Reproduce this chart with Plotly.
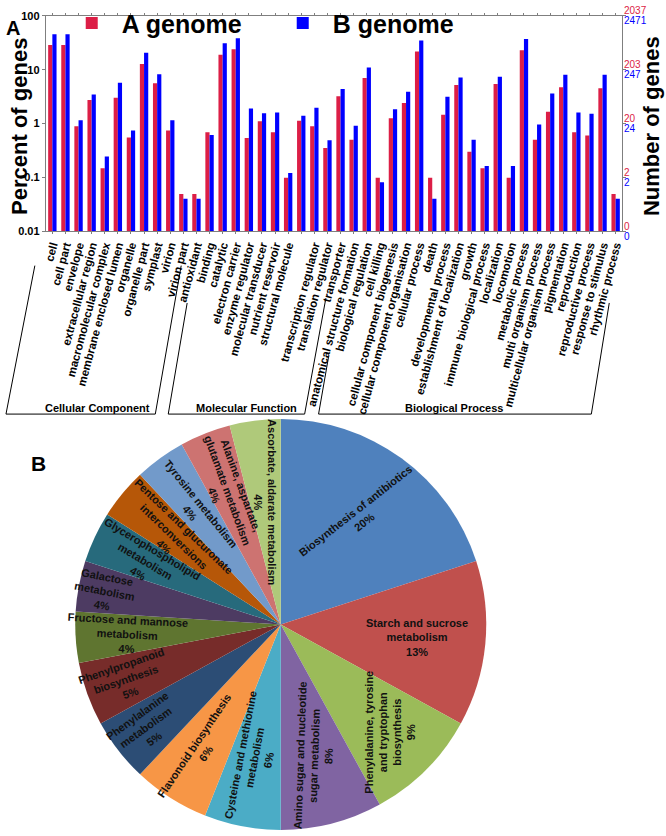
import numpy as np
import plotly.graph_objects as go

W, H = 666, 836

# ---------------- data: panel A ----------------
go_terms = [
    "cell", "cell part", "envelope", "extracellular region", "macromolecular complex",
    "membrane enclosed lumen", "organelle", "organelle part", "symplast", "virion",
    "virion part", "antioxidant", "binding", "catalytic", "electron carrier",
    "enzyme regulator", "molecular transducer", "nutrient reservoir", "structural molecule",
    "", "transcription regulator", "translation regulator", "transporter",
    "anatomical structure formation", "biological regulation", "cell killing",
    "cellular component biogenesis", "cellular component organisation", "cellular process",
    "death", "developmental process", "establishment of localization", "growth",
    "immune biological process", "localization", "locomotion", "metabolic process",
    "multi organism process", "multicellular organism process", "pigmentation",
    "reproduction", "reproductive process", "response to stimulus", "rhythmic process",
]
a_genome_pct = [28.8, 28.8, 0.89, 2.74, 0.147, 3.02, 0.55, 12.8, 5.6, 0.745,
                0.049, 0.049, 0.69, 18.9, 24.0, 0.54, 1.10, 0.69, 0.098,
                1.13, 0.89, 0.35, 3.2, 0.50, 7.0, 0.098, 1.25, 2.4, 21.7,
                0.098, 1.46, 5.2, 0.30, 0.147, 5.4, 0.098, 23.0, 0.50, 1.65,
                4.7, 0.69, 0.60, 4.5, 0.049]
b_genome_pct = [45.7, 45.7, 1.15, 3.47, 0.243, 5.75, 0.745, 20.6, 8.2, 1.15,
                0.040, 0.040, 0.61, 30.9, 38.6, 1.90, 1.56, 1.61, 0.121,
                1.40, 1.96, 0.49, 4.4, 0.91, 11.0, 0.081, 1.85, 3.9, 35.0,
                0.040, 3.15, 7.2, 0.50, 0.162, 7.4, 0.162, 37.0, 0.96, 3.6,
                8.1, 1.60, 1.52, 8.1, 0.040]
pct_ticks = [0.01, 0.1, 1, 10, 100]
pct_tick_text = ["0.01", "0.1", "1", "10", "100"]
a_count_ticks = ["0", "2", "20", "203", "2037"]
b_count_ticks = ["0", "2", "24", "247", "2471"]
groups = ["Cellular Component", "Molecular Function", "Biological Process"]

# ---------------- data: panel B ----------------
pathways = [
    "Biosynthesis of antibiotics<br>20%",
    "Starch and sucrose<br>metabolism<br>13%",
    "Phenylalanine, tyrosine<br>and tryptophan<br>biosynthesis<br>9%",
    "Amino sugar and nucleotide<br>sugar metabolism<br>8%",
    "Cysteine and methionine<br>metabolism<br>6%",
    "Flavonoid biosynthesis<br>6%",
    "Phenylalanine<br>metabolism<br>5%",
    "Phenylpropanoid<br>biosynthesis<br>5%",
    "Fructose and mannose<br>metabolism<br>4%",
    "Galactose<br>metabolism<br>4%",
    "Glycerophospholipid<br>metabolism<br>4%",
    "Pentose and glucuronate<br>interconversions<br>4%",
    "Tyrosine metabolism<br>4%",
    "Alanine, aspartate,<br>glutamate metabolism<br>4%",
    "Ascorbate, aldarate metabolism<br>4%",
]
pathway_pct = [20, 13, 9, 8, 6, 6, 5, 5, 4, 4, 4, 4, 4, 4, 4]

# ---------------- styles ----------------
RED = "#DC1E46"
BLUE = "#0000FF"
pie_colors = ["#4F81BD", "#C0504D", "#9BBB59", "#8064A2", "#4BACC6", "#F79646",
              "#2C4D75", "#772C2A", "#5F7530", "#4D3B62", "#276A7C", "#B65708",
              "#729ACA", "#CD7371", "#AFC97A"]
pie_text_angle = [-38, 0, -90, -88, -79, -56, -36, -19, 3, 11, 31, 44, 51, 70, 90]
pie_text_radius = [0.65, 0.66, 0.74, 0.66, 0.66, 0.72, 0.82, 0.79, 0.74, 0.86,
                   0.72, 0.67, 0.70, 0.70, 0.60]
FONT = "Liberation Sans, Arial, sans-serif"


def px_x(px):
    return px / W


def px_y(py):
    return 1 - py / H


# plot area of panel A in pixels
PL, PR, PT, PB = 44, 623, 8, 227

fig = go.Figure()
xpos = list(range(len(go_terms)))
fig.add_trace(go.Bar(x=xpos, y=a_genome_pct, name="A genome", marker_color=RED,
                     marker_line_width=0))
fig.add_trace(go.Bar(x=xpos, y=b_genome_pct, name="B genome", marker_color=BLUE,
                     marker_line_width=0))

# ---- pie (panel B)
cx, cy, R = 280, 627, 209
fig.add_trace(go.Pie(values=pathway_pct, labels=[p.split("<br>")[0] for p in pathways],
                     sort=False, direction="clockwise", rotation=0,
                     marker=dict(colors=pie_colors, line=dict(width=0)),
                     textinfo="none", showlegend=False, hoverinfo="skip",
                     domain=dict(x=[px_x(cx - R), px_x(cx + R)], y=[px_y(cy + R), px_y(cy - R)])))

annotations = []
vals = np.array(pathway_pct, dtype=float)
mids = (np.cumsum(vals) - vals / 2) / vals.sum() * 2 * np.pi
for txt, th, ang, rf in zip(pathways, mids, pie_text_angle, pie_text_radius):
    tx = cx + rf * R * np.sin(th)
    ty = cy - rf * R * np.cos(th)
    annotations.append(dict(x=px_x(tx), y=px_y(ty), xref="paper", yref="paper",
                            text="<b>" + txt + "</b>", showarrow=False, textangle=ang,
                            font=dict(family=FONT, size=11, color="#111111"),
                            xanchor="center", yanchor="middle"))

# right-hand count labels (two colours)
for v, a_lab, b_lab in zip(pct_ticks, a_count_ticks, b_count_ticks):
    annotations.append(dict(x=1.0, xref="x domain", y=np.log10(v), yref="y",
                            text=a_lab, showarrow=False, xanchor="left", yanchor="middle",
                            xshift=0, yshift=5, font=dict(family=FONT, size=10, color=RED)))
    annotations.append(dict(x=1.0, xref="x domain", y=np.log10(v), yref="y",
                            text=b_lab, showarrow=False, xanchor="left", yanchor="middle",
                            xshift=0, yshift=-5, font=dict(family=FONT, size=10, color=BLUE)))

# titles / panel letters
annotations += [
    dict(x=px_x(18), y=px_y(120), xref="paper", yref="paper", text="<b>Percent of genes</b>",
         textangle=-90, showarrow=False, xanchor="center", yanchor="middle",
         font=dict(family=FONT, size=22, color="black")),
    dict(x=px_x(653), y=px_y(120), xref="paper", yref="paper", text="<b>Number of genes</b>",
         textangle=-90, showarrow=False, xanchor="center", yanchor="middle",
         font=dict(family=FONT, size=22, color="black")),
    dict(x=px_x(11), y=px_y(20), xref="paper", yref="paper", text="<b>A</b>",
         showarrow=False, xanchor="center", yanchor="middle",
         font=dict(family=FONT, size=20, color="black")),
    dict(x=px_x(37), y=px_y(463), xref="paper", yref="paper", text="<b>B</b>",
         showarrow=False, xanchor="center", yanchor="middle",
         font=dict(family=FONT, size=21, color="black")),
]

# group brackets
bracket_text_x = [96, 246, 454]
for g, gx in zip(groups, bracket_text_x):
    annotations.append(dict(x=px_x(gx), y=px_y(407), xref="paper", yref="paper",
                            text="<b>" + g + "</b>", showarrow=False,
                            xanchor="center", yanchor="middle",
                            font=dict(family=FONT, size=11, color="black")))

bracket_lines = [
    ((33, 262), (4, 413)), ((4, 413), (154, 413)), ((154, 413), (180, 262)),
    ((186, 300), (167, 413)), ((167, 413), (304, 413)), ((304, 413), (325, 297)),
    ((328, 355), (318, 413)), ((318, 413), (592, 413)), ((592, 413), (610, 300)),
]
shapes = []
for (x0, y0), (x1, y1) in bracket_lines:
    shapes.append(dict(type="line", xref="paper", yref="paper",
                       x0=px_x(x0), y0=px_y(y0), x1=px_x(x1), y1=px_y(y1),
                       line=dict(color="black", width=1), layer="below"))

fig.update_layout(
    width=W, height=H, margin=dict(l=0, r=0, t=0, b=0),
    paper_bgcolor="white", plot_bgcolor="white",
    barmode="group", bargap=0.36, bargroupgap=0.0,
    font=dict(family=FONT, color="black"),
    legend=dict(orientation="h", x=px_x(60), y=px_y(-8), xanchor="left", yanchor="top",
                itemwidth=50, entrywidth=146, entrywidthmode="pixels",
                bgcolor="rgba(0,0,0,0)",
                font=dict(family=FONT, size=25, color="black", weight="bold")),
    xaxis=dict(domain=[px_x(PL), px_x(PR)], range=[-0.5, len(go_terms) - 0.5],
               tickmode="array", tickvals=xpos, ticktext=go_terms, tickangle=-75,
               tickfont=dict(family=FONT, size=11.5, color="black", weight="bold"),
               showline=True, linecolor="#7f7f7f", mirror="ticks", ticks="outside",
               ticklen=2, tickcolor="#7f7f7f", showgrid=False, zeroline=False),
    yaxis=dict(domain=[px_y(PB), px_y(PT)], type="log", range=[-2, 2],
               tickmode="array", tickvals=pct_ticks, ticktext=pct_tick_text,
               tickfont=dict(family=FONT, size=11, color="black", weight="bold"),
               showline=True, linecolor="#7f7f7f", mirror="ticks", ticks="outside",
               ticklen=3, tickcolor="#7f7f7f", showgrid=False, zeroline=False),
    annotations=annotations, shapes=shapes,
)

fig.write_html("out.html", config={"displayModeBar": False},
               post_script="document.body.style.margin='0';")
